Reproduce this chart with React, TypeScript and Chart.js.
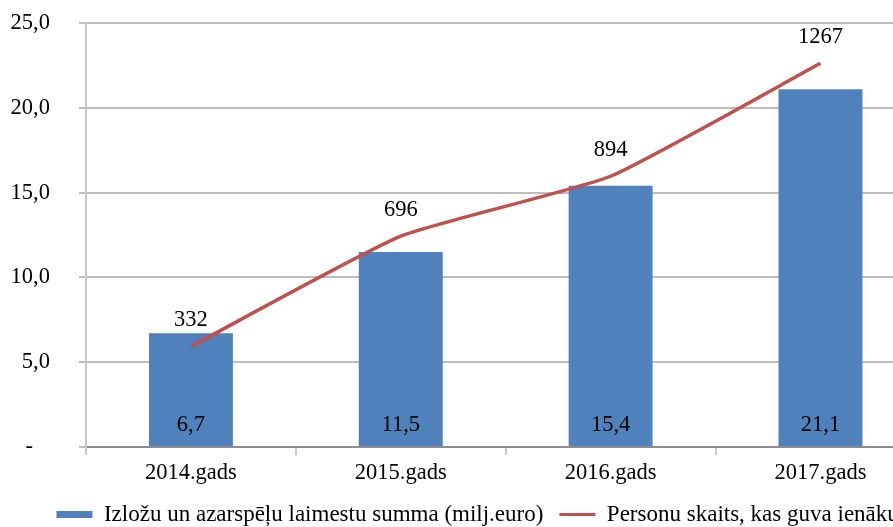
import React, { useEffect, useRef } from "react";
import { Chart, registerables } from "chart.js";

Chart.register(...registerables);

const categories = ["2014.gads", "2015.gads", "2016.gads", "2017.gads"];
const prizeSums = [6.7, 11.5, 15.4, 21.1];
const persons = [332, 696, 894, 1267];
const leftTickValues = [0, 5, 10, 15, 20, 25];
const leftTickLabels = ["-   ", "5,0", "10,0", "15,0", "20,0", "25,0"];
const barLabel = "Izložu un azarspēļu laimestu summa (milj.euro)";
const lineLabel = "Personu skaits, kas guva ienākumus";

const FONT = "'Liberation Serif', 'Times New Roman', serif";
const FS = 22.5;
const LFS = 23;

const valueLabels = {
  id: "valueLabels",
  afterDatasetsDraw(chart: any) {
    const ctx = chart.ctx;
    ctx.save();
    ctx.font = `${FS}px ${FONT}`;
    ctx.fillStyle = "#000";
    ctx.textAlign = "center";
    ctx.textBaseline = "middle";
    chart.data.datasets.forEach((ds: any, di: number) => {
      const meta = chart.getDatasetMeta(di);
      meta.data.forEach((el: any, i: number) => {
        const v = ds.data[i];
        if (ds.type === "bar") {
          ctx.fillText(String(v).replace(".", ","), el.x, el.base - 21);
        } else {
          ctx.fillText(String(v), el.x, el.y - 26);
        }
      });
    });
    ctx.restore();
  },
};

// Chart.js counts tick padding twice in an axis' size; keep it once and drop edge paddings.
const fitAxis = (s: any) => {
  s.paddingTop = 0;
  s.paddingBottom = 0;
  s.paddingLeft = 0;
  s.paddingRight = 0;
  const p = s.options.ticks.padding || 0;
  if (s.isHorizontal()) s.height -= p;
  else s.width -= p;
};

export default function App() {
  const ref = useRef<HTMLCanvasElement | null>(null);
  useEffect(() => {
    if (!ref.current) return;
    const chart = new Chart(ref.current, {
      type: "bar",
      data: {
        labels: categories,
        datasets: [
          {
            type: "bar",
            label: barLabel,
            data: prizeSums,
            backgroundColor: "#4F81BD",
            borderWidth: 0,
            barPercentage: 0.4,
            categoryPercentage: 1,
            yAxisID: "y",
            order: 1,
          } as any,
          {
            type: "line",
            label: lineLabel,
            data: persons,
            borderColor: "#C0504D",
            backgroundColor: "#C0504D",
            borderWidth: 3.5,
            pointRadius: 0,
            pointStyle: "line",
            tension: 0.15,
            yAxisID: "y1",
            order: 0,
          } as any,
        ],
      },
      options: {
        animation: false,
        responsive: true,
        maintainAspectRatio: false,
        layout: { padding: { left: 10.6, top: 23, right: 0, bottom: 0 } },
        plugins: {
          tooltip: { enabled: false },
          legend: {
            position: "bottom",
            labels: {
              usePointStyle: true,
              pointStyleWidth: 36,
              boxHeight: 7,
              padding: 16,
              color: "#000",
              font: { family: FONT, size: LFS },
              sort: (a: any, b: any) => a.datasetIndex - b.datasetIndex,
              generateLabels: (c: any) => {
                const items = Chart.defaults.plugins.legend.labels.generateLabels(c);
                return items.map((it: any) => {
                  const ds = c.data.datasets[it.datasetIndex];
                  if (ds.type === "bar") {
                    return { ...it, pointStyle: "rect", lineWidth: 0, fillStyle: "#4F81BD", strokeStyle: "#4F81BD" };
                  }
                  return { ...it, pointStyle: "line", lineWidth: 3, strokeStyle: "#C0504D", fillStyle: "#C0504D" };
                });
              },
            },
          },
        },
        scales: {
          x: {
            offset: true,
            afterFit: fitAxis,
            grid: {
              display: true,
              offset: true,
              drawOnChartArea: false,
              drawTicks: true,
              tickLength: 8,
              color: "#c8c8c8",
              lineWidth: 2,
            },
            border: { display: true, color: "#8c8c8c", width: 2 },
            ticks: { color: "#000", font: { family: FONT, size: FS }, padding: 5 },
          },
          y: {
            position: "left",
            min: 0,
            max: 25,
            afterFit: fitAxis,
            afterBuildTicks: (s: any) => {
              s.ticks = leftTickValues.map((v) => ({ value: v }));
            },
            grid: {
              color: "#bdbdbd",
              lineWidth: 2,
              tickLength: 7,
              drawTicks: true,
            },
            border: { display: true, color: "#c8c8c8", width: 2 },
            ticks: {
              color: "#000",
              font: { family: FONT, size: FS },
              padding: 29,
              callback: (v: any) => {
                const i = leftTickValues.indexOf(Number(v));
                return i >= 0 ? leftTickLabels[i] : "";
              },
            },
          },
          y1: {
            position: "right",
            min: 0,
            max: 1400,
            afterFit: fitAxis,
            ticks: { stepSize: 200, color: "#000", font: { family: FONT, size: FS }, padding: 0 },
            grid: { drawOnChartArea: false, tickLength: 7, color: "#c8c8c8" },
            border: { display: true, color: "#c8c8c8" },
          },
        },
      },
      plugins: [valueLabels],
    });
    return () => chart.destroy();
  }, []);
  return (
    <div style={{ position: "absolute", left: 0, top: 0, width: 893, height: 527, overflow: "hidden", background: "#fff" }}>
      <div style={{ position: "relative", width: 983, height: 536 }}>
        <canvas ref={ref} />
      </div>
    </div>
  );
}
